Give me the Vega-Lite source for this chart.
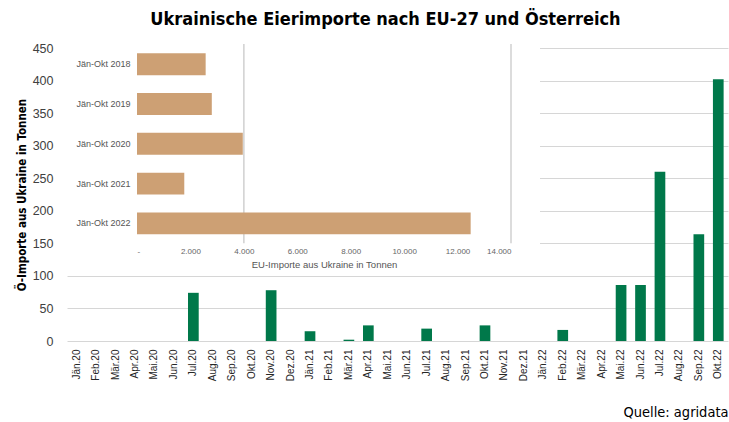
{
  "$schema": "https://vega.github.io/schema/vega-lite/v6.json",
  "width": 661,
  "height": 293,
  "autosize": {"type": "none"},
  "padding": {"left": 67, "top": 48, "right": 1, "bottom": 81},
  "background": "white",
  "config": {"view": {"stroke": null}, "font": "Liberation Sans"},
  "title": {
    "text": "Ukrainische Eierimporte nach EU-27 und Österreich",
    "font": "Liberation Sans Narrow, DejaVu Sans Condensed, Liberation Sans",
    "fontSize": 18,
    "fontWeight": "bold",
    "color": "#000000",
    "anchor": "middle",
    "frame": "group",
    "baseline": "alphabetic",
    "offset": 23,
    "dx": -12,
    "dy": 26
  },
  "datasets": {
    "monthly": [
      {"monat": "Jän.20", "tonnen": 0},
      {"monat": "Feb.20", "tonnen": 0},
      {"monat": "Mär.20", "tonnen": 0},
      {"monat": "Apr.20", "tonnen": 0},
      {"monat": "Mai.20", "tonnen": 0},
      {"monat": "Jun.20", "tonnen": 0},
      {"monat": "Jul.20", "tonnen": 74},
      {"monat": "Aug.20", "tonnen": 0},
      {"monat": "Sep.20", "tonnen": 0},
      {"monat": "Okt.20", "tonnen": 0},
      {"monat": "Nov.20", "tonnen": 78},
      {"monat": "Dez.20", "tonnen": 0},
      {"monat": "Jän.21", "tonnen": 15},
      {"monat": "Feb.21", "tonnen": 0},
      {"monat": "Mär.21", "tonnen": 2},
      {"monat": "Apr.21", "tonnen": 24},
      {"monat": "Mai.21", "tonnen": 0},
      {"monat": "Jun.21", "tonnen": 0},
      {"monat": "Jul.21", "tonnen": 19},
      {"monat": "Aug.21", "tonnen": 0},
      {"monat": "Sep.21", "tonnen": 0},
      {"monat": "Okt.21", "tonnen": 24},
      {"monat": "Nov.21", "tonnen": 0},
      {"monat": "Dez.21", "tonnen": 0},
      {"monat": "Jän.22", "tonnen": 0},
      {"monat": "Feb.22", "tonnen": 17},
      {"monat": "Mär.22", "tonnen": 0},
      {"monat": "Apr.22", "tonnen": 0},
      {"monat": "Mai.22", "tonnen": 86},
      {"monat": "Jun.22", "tonnen": 86},
      {"monat": "Jul.22", "tonnen": 260},
      {"monat": "Aug.22", "tonnen": 0},
      {"monat": "Sep.22", "tonnen": 164},
      {"monat": "Okt.22", "tonnen": 402}
    ],
    "eu": [
      {"zeitraum": "Jän-Okt 2018", "tonnen": 2570},
      {"zeitraum": "Jän-Okt 2019", "tonnen": 2800},
      {"zeitraum": "Jän-Okt 2020", "tonnen": 3960},
      {"zeitraum": "Jän-Okt 2021", "tonnen": 1770},
      {"zeitraum": "Jän-Okt 2022", "tonnen": 12490}
    ],
    "gitter": [{"v": 4000}, {"v": 14000}]
  },
  "layer": [
    {
      "data": {"name": "monthly"},
      "mark": {"type": "bar", "color": "#00784A"},
      "encoding": {
        "x": {
          "field": "monat",
          "type": "ordinal",
          "sort": null,
          "scale": {"paddingInner": 0.45, "paddingOuter": 0.225},
          "axis": {
            "orient": "bottom",
            "title": "Quelle: agridata",
            "titleAnchor": "end",
            "titleAlign": "right",
            "titleBaseline": "alphabetic",
            "titleY": 75,
            "titleFont": "Liberation Sans Narrow, DejaVu Sans Condensed, Liberation Sans",
            "titleFontSize": 14.5,
            "titleFontWeight": "normal",
            "titleColor": "#000000",
            "labelAngle": -90,
            "labelFontSize": 10,
            "labelColor": "#262626",
            "labelPadding": 8,
            "ticks": false,
            "domain": false,
            "grid": false
          }
        },
        "y": {
          "field": "tonnen",
          "type": "quantitative",
          "scale": {"domain": [0, 450], "nice": false},
          "axis": {
            "orient": "left",
            "title": "Ö-Importe aus Ukraine in Tonnen",
            "titleFont": "Liberation Sans Narrow, DejaVu Sans Condensed, Liberation Sans",
            "titleFontSize": 11.5,
            "titleFontWeight": "bold",
            "titleColor": "#000000",
            "titleX": -45,
            "titleBaseline": "middle",
            "values": [0, 50, 100, 150, 200, 250, 300, 350, 400, 450],
            "labelFontSize": 12.5,
            "labelColor": "#404040",
            "labelPadding": 14,
            "ticks": false,
            "domain": false,
            "grid": true,
            "gridColor": "#d6d6d6",
            "gridWidth": 1
          }
        }
      }
    },
    {
      "layer": [
        {
          "layer": [
            {
              "data": {"values": [{}]},
              "mark": {"type": "rect", "color": "white"},
              "encoding": {
                "x": {"datum": -2620, "type": "quantitative", "scale": {"domain": [0, 14000], "range": [70, 444], "nice": false, "zero": false}, "axis": null},
                "x2": {"datum": 15086},
                "y": {"datum": 462, "type": "quantitative", "scale": {"domain": [0, 450], "nice": false, "zero": false}, "axis": null},
                "y2": {"datum": 106}
              }
            },
            {
              "data": {"name": "gitter"},
              "mark": {"type": "rule", "color": "#d0d0d0", "strokeWidth": 1.5},
              "encoding": {
                "x": {"field": "v", "type": "quantitative", "scale": {"domain": [0, 14000], "range": [70, 444], "nice": false, "zero": false}, "axis": null},
                "y": {"datum": 456, "type": "quantitative", "scale": {"domain": [0, 450], "nice": false, "zero": false}, "axis": null},
                "y2": {"datum": 150}
              }
            }
          ]
        },
        {
          "data": {"name": "eu"},
          "mark": {"type": "bar", "color": "#CDA074"},
          "encoding": {
            "y": {
              "field": "zeitraum",
              "type": "nominal",
              "sort": null,
              "scale": {"range": [5.3, 186.3], "paddingInner": 0.45, "paddingOuter": 0},
              "axis": {
                "orient": "left",
                "offset": -65,
                "title": null,
                "labelFontSize": 9,
                "labelColor": "#555555",
                "labelPadding": 2,
                "ticks": false,
                "domain": false,
                "grid": false,
                "zindex": 1
              }
            },
            "x": {
              "field": "tonnen",
              "type": "quantitative",
              "scale": {"domain": [0, 14000], "range": [70, 444], "nice": false, "zero": false},
              "axis": {
                "orient": "bottom",
                "offset": -96,
                "values": [0, 2000, 4000, 6000, 8000, 10000, 12000, 14000],
                "labelExpr": "datum.value === 0 ? '-' : replace(format(datum.value, ','), ',', '.')",
                "labelFontSize": 8,
                "labelColor": "#666666",
                "labelPadding": 2,
                "ticks": false,
                "domain": false,
                "grid": false,
                "title": "EU-Importe aus Ukraine in Tonnen",
                "titleFontSize": 9.5,
                "titleFontWeight": "normal",
                "titleColor": "#555555",
                "titlePadding": 4,
                "zindex": 1
              }
            }
          }
        }
      ],
      "resolve": {"scale": {"y": "independent"}, "axis": {"x": "independent", "y": "independent"}}
    }
  ],
  "resolve": {"scale": {"x": "independent", "y": "independent"}, "axis": {"x": "independent", "y": "independent"}}
}
